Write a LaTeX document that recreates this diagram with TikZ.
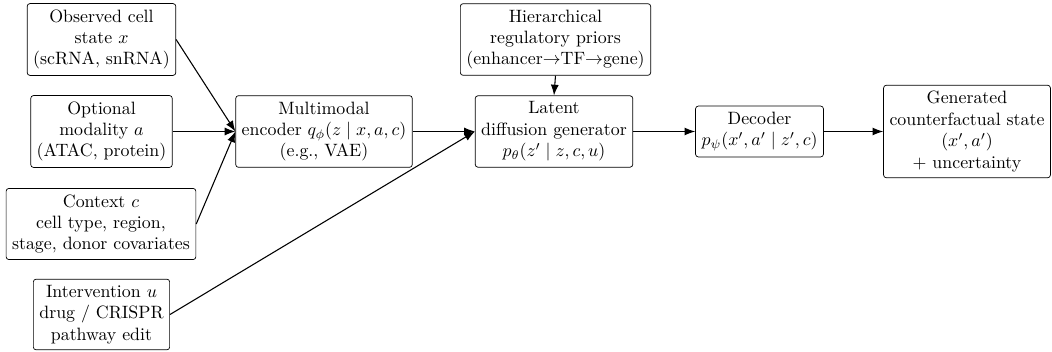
\documentclass[tikz,border=0pt]{standalone}
\usetikzlibrary{arrows.meta}
\begin{document}
\begin{tikzpicture}[x=0.56pt,y=-0.56pt,
  box/.style={draw, rounded corners=1.5pt, align=center, inner sep=3.333pt},
  arr/.style={-{Latex[length=6pt,width=4.5pt]}, semithick}]
\useasboundingbox (0,0) rectangle (1052,352);
\node[box] (obs) at (101.5,39.5) {Observed cell\\state $x$\\(scRNA, snRNA)};
\node[box] (opt) at (101.5,131.5) {Optional\\modality $a$\\(ATAC, protein)};
\node[box] (ctx) at (101,224) {Context $c$\\cell type, region,\\stage, donor covariates};
\node[box] (int) at (101.5,314.5) {Intervention $u$\\drug / CRISPR\\pathway edit};
\node[box] (enc) at (324,131.5) {Multimodal\\encoder $q_\phi(z \mid x,a,c)$\\(e.g., VAE)};
\node[box] (hier) at (555.5,39.5) {Hierarchical\\regulatory priors\\(enhancer$\rightarrow$TF$\rightarrow$gene)};
\node[box] (lat) at (554,131.5) {Latent\\diffusion generator\\$p_\theta(z' \mid z,c,u)$};
\node[box] (dec) at (759.5,131.5) {Decoder\\$p_\psi(x',a' \mid z',c)$};
\node[box] (gen) at (967,131.5) {Generated\\counterfactual state\\$(x',a')$\\+ uncertainty};
\draw[arr] (obs.east) -- (enc.west);
\draw[arr] (opt.east) -- (enc.west);
\draw[arr] (ctx.east) -- (enc.west);
\draw[arr] (int.east) -- (lat.west);
\draw[arr] (enc.east) -- (lat.west);
\draw[arr] (hier.south) -- (lat.north);
\draw[arr] (lat.east) -- (dec.west);
\draw[arr] (dec.east) -- (gen.west);
\end{tikzpicture}
\end{document}
